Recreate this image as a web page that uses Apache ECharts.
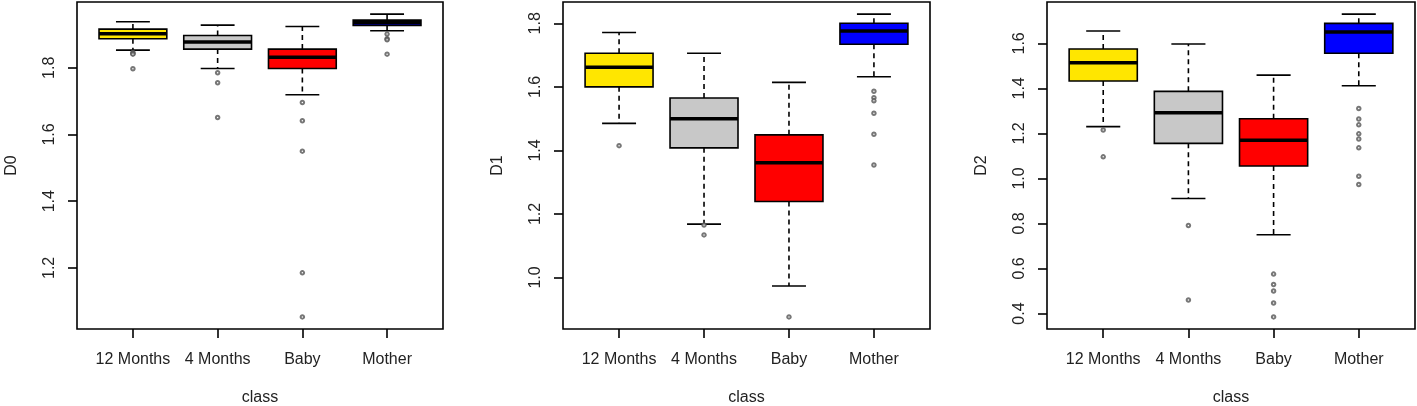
<!DOCTYPE html>
<html>
<head>
<meta charset="utf-8">
<script src="https://cdn.jsdelivr.net/npm/echarts@6/dist/echarts.min.js"></script>
<style>
  html, body { margin: 0; padding: 0; background: #fff; }
  #chart { width: 1417px; height: 406px; }
</style>
</head>
<body>
<div id="chart"></div>
<script>
var classes = ['12 Months', '4 Months', 'Baby', 'Mother'];
var boxColors = ['#FFE600', '#C8C8C8', '#FF0000', '#0000FF'];

// [lower whisker, Q1, median, Q3, upper whisker] per class
var d0Boxes = [
    [1.853, 1.887, 1.902, 1.916, 1.938],
    [1.798, 1.856, 1.877, 1.897, 1.928],
    [1.719, 1.798, 1.832, 1.856, 1.924],
    [1.911, 1.927, 1.935, 1.943, 1.961]
];
var d0Outliers = [
    [1.846, 1.843, 1.841, 1.797],
    [1.785, 1.755, 1.651],
    [1.696, 1.641, 1.550, 1.185, 1.053],
    [1.901, 1.887, 1.884, 1.841]
];

var d1Boxes = [
    [1.485, 1.600, 1.662, 1.706, 1.771],
    [1.168, 1.408, 1.500, 1.565, 1.706],
    [0.973, 1.239, 1.361, 1.449, 1.614],
    [1.632, 1.734, 1.776, 1.800, 1.829]
];
var d1Outliers = [
    [1.415],
    [1.165, 1.134],
    [0.876],
    [1.586, 1.566, 1.556, 1.517, 1.451, 1.354]
];

var d2Boxes = [
    [1.230, 1.433, 1.514, 1.575, 1.655],
    [0.911, 1.156, 1.292, 1.387, 1.597],
    [0.750, 1.055, 1.170, 1.265, 1.459],
    [1.412, 1.556, 1.650, 1.689, 1.730]
];
var d2Outliers = [
    [1.215, 1.096],
    [0.791, 0.460],
    [0.575, 0.529, 0.500, 0.447, 0.385],
    [1.311, 1.264, 1.238, 1.198, 1.175, 1.136, 1.010, 0.973]
];

var d0Ticks = [1.2, 1.4, 1.6, 1.8];
var d1Ticks = [1.0, 1.2, 1.4, 1.6, 1.8];
var d2Ticks = [0.4, 0.6, 0.8, 1.0, 1.2, 1.4, 1.6];

var panels = [
    { name: 'D0', boxes: d0Boxes, outliers: d0Outliers, ticks: d0Ticks, left: 77, width: 366 },
    { name: 'D1', boxes: d1Boxes, outliers: d1Outliers, ticks: d1Ticks, left: 563, width: 367 },
    { name: 'D2', boxes: d2Boxes, outliers: d2Outliers, ticks: d2Ticks, left: 1047, width: 368 }
];

var font = 'Liberation Sans, Arial, sans-serif';
var catTicks = [1, 2, 3, 4];

function renderBox(params, api) {
    var x = api.value(0);
    var lo = api.coord([x, api.value(1)]);
    var q1 = api.coord([x, api.value(2)]);
    var md = api.coord([x, api.value(3)]);
    var q3 = api.coord([x, api.value(4)]);
    var hi = api.coord([x, api.value(5)]);
    var half = api.size([0.8, 0])[0] / 2;
    var cap = half / 2;
    var cx = lo[0];
    var solid = { stroke: '#000', lineWidth: 1.6 };
    var dashed = { stroke: '#000', lineWidth: 1.6, lineDash: [5, 4] };
    return {
        type: 'group',
        children: [
            { type: 'line', shape: { x1: cx, y1: q1[1], x2: cx, y2: lo[1] }, style: dashed },
            { type: 'line', shape: { x1: cx, y1: q3[1], x2: cx, y2: hi[1] }, style: dashed },
            { type: 'line', shape: { x1: cx - cap, y1: lo[1], x2: cx + cap, y2: lo[1] }, style: solid },
            { type: 'line', shape: { x1: cx - cap, y1: hi[1], x2: cx + cap, y2: hi[1] }, style: solid },
            { type: 'rect', shape: { x: cx - half, y: q3[1], width: half * 2, height: q1[1] - q3[1] },
              style: { fill: boxColors[x - 1], stroke: '#000', lineWidth: 1.6 } },
            { type: 'line', shape: { x1: cx - half, y1: md[1], x2: cx + half, y2: md[1] },
              style: { stroke: '#000', lineWidth: 3.5 } }
        ]
    };
}

var grid = [], xAxis = [], yAxis = [], series = [];
panels.forEach(function (p, k) {
    var all = [];
    p.boxes.forEach(function (b) { all = all.concat(b); });
    p.outliers.forEach(function (o) { all = all.concat(o); });
    var lo = Math.min.apply(null, all), hi = Math.max.apply(null, all);
    var pad = (hi - lo) * 0.04;

    grid.push({ left: p.left, width: p.width, top: 2, height: 327, show: true,
        outerBoundsMode: 'none', containLabel: false,
        borderColor: '#000', borderWidth: 1.6, backgroundColor: 'transparent' });

    xAxis.push({
        gridIndex: k, type: 'value', min: 0.34, max: 4.66,
        name: 'class', nameLocation: 'middle', nameGap: 61,
        nameTextStyle: { fontFamily: font, fontSize: 16, color: '#222' },
        axisLine: { show: false },
        splitLine: { show: false },
        axisTick: { show: true, length: 9, customValues: catTicks, lineStyle: { color: '#000', width: 1.6 } },
        axisLabel: { customValues: catTicks, margin: 23, fontFamily: font, fontSize: 16, color: '#222',
            formatter: function (v) { return classes[v - 1] || ''; } }
    });

    yAxis.push({
        gridIndex: k, type: 'value', min: lo - pad, max: hi + pad,
        name: p.name, nameLocation: 'middle', nameGap: 57, nameRotate: 90,
        nameTextStyle: { fontFamily: font, fontSize: 16, color: '#222' },
        axisLine: { show: false },
        splitLine: { show: false },
        axisTick: { show: true, length: 9, customValues: p.ticks, lineStyle: { color: '#000', width: 1.6 } },
        axisLabel: { customValues: p.ticks, rotate: 90, margin: 19, fontFamily: font, fontSize: 16, color: '#222',
            formatter: function (v) { return v.toFixed(1); } }
    });

    series.push({
        type: 'custom', xAxisIndex: k, yAxisIndex: k,
        renderItem: renderBox,
        encode: { x: 0, y: [1, 2, 3, 4, 5] },
        data: p.boxes.map(function (b, i) { return [i + 1].concat(b); }),
        z: 2
    });

    var pts = [];
    p.outliers.forEach(function (o, i) {
        o.forEach(function (v) { pts.push([i + 1, v]); });
    });
    series.push({
        type: 'scatter', xAxisIndex: k, yAxisIndex: k,
        symbol: 'emptyCircle', symbolSize: 3.5,
        itemStyle: { color: '#555', borderColor: '#555', borderWidth: 1.3 },
        data: pts, z: 3
    });
});

var chart = echarts.init(document.getElementById('chart'));
chart.setOption({
    animation: false,
    backgroundColor: '#fff',
    grid: grid,
    xAxis: xAxis,
    yAxis: yAxis,
    series: series
});
</script>
</body>
</html>
